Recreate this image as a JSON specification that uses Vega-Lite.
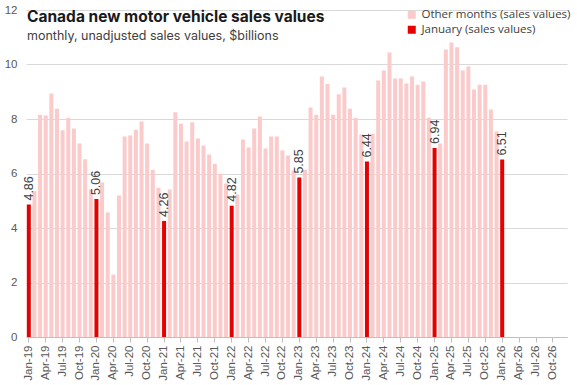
{
  "$schema": "https://vega.github.io/schema/vega-lite/v6.json",
  "autosize": "none",
  "width": 541,
  "height": 327,
  "padding": {"left": 26, "top": 10, "right": 10, "bottom": 48},
  "background": "white",
  "title": {
    "text": "Canada new motor vehicle sales values",
    "subtitle": "monthly, unadjusted sales values,  $billions",
    "anchor": "start",
    "frame": "group",
    "offset": -38,
    "dx": 1,
    "font": "Inter",
    "fontSize": 15.5,
    "fontWeight": "bold",
    "color": "#1a1a1a",
    "subtitleFont": "Inter",
    "subtitleFontSize": 12.5,
    "subtitleColor": "#404040",
    "subtitlePadding": 4
  },
  "config": {
    "view": {"stroke": null},
    "axis": {"labelFont": "Liberation Sans", "labelColor": "#595959", "labelFontSize": 11.5}
  },
  "data": {
    "values": [
      {"month": "Jan-19", "value": 4.86, "series": "January (sales values)"},
      {"month": "Feb-19", "value": 5.35, "series": "Other months (sales values)"},
      {"month": "Mar-19", "value": 8.16, "series": "Other months (sales values)"},
      {"month": "Apr-19", "value": 8.13, "series": "Other months (sales values)"},
      {"month": "May-19", "value": 8.94, "series": "Other months (sales values)"},
      {"month": "Jun-19", "value": 8.38, "series": "Other months (sales values)"},
      {"month": "Jul-19", "value": 7.59, "series": "Other months (sales values)"},
      {"month": "Aug-19", "value": 8.05, "series": "Other months (sales values)"},
      {"month": "Sep-19", "value": 7.65, "series": "Other months (sales values)"},
      {"month": "Oct-19", "value": 7.10, "series": "Other months (sales values)"},
      {"month": "Nov-19", "value": 6.52, "series": "Other months (sales values)"},
      {"month": "Dec-19", "value": 5.41, "series": "Other months (sales values)"},
      {"month": "Jan-20", "value": 5.06, "series": "January (sales values)"},
      {"month": "Feb-20", "value": 5.67, "series": "Other months (sales values)"},
      {"month": "Mar-20", "value": 4.57, "series": "Other months (sales values)"},
      {"month": "Apr-20", "value": 2.29, "series": "Other months (sales values)"},
      {"month": "May-20", "value": 5.19, "series": "Other months (sales values)"},
      {"month": "Jun-20", "value": 7.36, "series": "Other months (sales values)"},
      {"month": "Jul-20", "value": 7.39, "series": "Other months (sales values)"},
      {"month": "Aug-20", "value": 7.61, "series": "Other months (sales values)"},
      {"month": "Sep-20", "value": 7.91, "series": "Other months (sales values)"},
      {"month": "Oct-20", "value": 7.10, "series": "Other months (sales values)"},
      {"month": "Nov-20", "value": 6.14, "series": "Other months (sales values)"},
      {"month": "Dec-20", "value": 5.48, "series": "Other months (sales values)"},
      {"month": "Jan-21", "value": 4.26, "series": "January (sales values)"},
      {"month": "Feb-21", "value": 5.41, "series": "Other months (sales values)"},
      {"month": "Mar-21", "value": 8.25, "series": "Other months (sales values)"},
      {"month": "Apr-21", "value": 7.83, "series": "Other months (sales values)"},
      {"month": "May-21", "value": 7.17, "series": "Other months (sales values)"},
      {"month": "Jun-21", "value": 7.88, "series": "Other months (sales values)"},
      {"month": "Jul-21", "value": 7.28, "series": "Other months (sales values)"},
      {"month": "Aug-21", "value": 7.03, "series": "Other months (sales values)"},
      {"month": "Sep-21", "value": 6.70, "series": "Other months (sales values)"},
      {"month": "Oct-21", "value": 6.36, "series": "Other months (sales values)"},
      {"month": "Nov-21", "value": 5.99, "series": "Other months (sales values)"},
      {"month": "Dec-21", "value": 5.63, "series": "Other months (sales values)"},
      {"month": "Jan-22", "value": 4.82, "series": "January (sales values)"},
      {"month": "Feb-22", "value": 5.23, "series": "Other months (sales values)"},
      {"month": "Mar-22", "value": 7.25, "series": "Other months (sales values)"},
      {"month": "Apr-22", "value": 6.95, "series": "Other months (sales values)"},
      {"month": "May-22", "value": 7.65, "series": "Other months (sales values)"},
      {"month": "Jun-22", "value": 8.09, "series": "Other months (sales values)"},
      {"month": "Jul-22", "value": 6.92, "series": "Other months (sales values)"},
      {"month": "Aug-22", "value": 7.36, "series": "Other months (sales values)"},
      {"month": "Sep-22", "value": 7.36, "series": "Other months (sales values)"},
      {"month": "Oct-22", "value": 6.84, "series": "Other months (sales values)"},
      {"month": "Nov-22", "value": 6.66, "series": "Other months (sales values)"},
      {"month": "Dec-22", "value": 6.11, "series": "Other months (sales values)"},
      {"month": "Jan-23", "value": 5.85, "series": "January (sales values)"},
      {"month": "Feb-23", "value": 6.14, "series": "Other months (sales values)"},
      {"month": "Mar-23", "value": 8.42, "series": "Other months (sales values)"},
      {"month": "Apr-23", "value": 8.16, "series": "Other months (sales values)"},
      {"month": "May-23", "value": 9.56, "series": "Other months (sales values)"},
      {"month": "Jun-23", "value": 9.28, "series": "Other months (sales values)"},
      {"month": "Jul-23", "value": 8.16, "series": "Other months (sales values)"},
      {"month": "Aug-23", "value": 8.91, "series": "Other months (sales values)"},
      {"month": "Sep-23", "value": 9.16, "series": "Other months (sales values)"},
      {"month": "Oct-23", "value": 8.38, "series": "Other months (sales values)"},
      {"month": "Nov-23", "value": 8.05, "series": "Other months (sales values)"},
      {"month": "Dec-23", "value": 7.43, "series": "Other months (sales values)"},
      {"month": "Jan-24", "value": 6.44, "series": "January (sales values)"},
      {"month": "Feb-24", "value": 7.46, "series": "Other months (sales values)"},
      {"month": "Mar-24", "value": 9.41, "series": "Other months (sales values)"},
      {"month": "Apr-24", "value": 9.78, "series": "Other months (sales values)"},
      {"month": "May-24", "value": 10.44, "series": "Other months (sales values)"},
      {"month": "Jun-24", "value": 9.49, "series": "Other months (sales values)"},
      {"month": "Jul-24", "value": 9.49, "series": "Other months (sales values)"},
      {"month": "Aug-24", "value": 9.30, "series": "Other months (sales values)"},
      {"month": "Sep-24", "value": 9.56, "series": "Other months (sales values)"},
      {"month": "Oct-24", "value": 9.26, "series": "Other months (sales values)"},
      {"month": "Nov-24", "value": 9.38, "series": "Other months (sales values)"},
      {"month": "Dec-24", "value": 8.05, "series": "Other months (sales values)"},
      {"month": "Jan-25", "value": 6.94, "series": "January (sales values)"},
      {"month": "Feb-25", "value": 7.10, "series": "Other months (sales values)"},
      {"month": "Mar-25", "value": 10.55, "series": "Other months (sales values)"},
      {"month": "Apr-25", "value": 10.81, "series": "Other months (sales values)"},
      {"month": "May-25", "value": 10.63, "series": "Other months (sales values)"},
      {"month": "Jun-25", "value": 9.78, "series": "Other months (sales values)"},
      {"month": "Jul-25", "value": 9.93, "series": "Other months (sales values)"},
      {"month": "Aug-25", "value": 9.08, "series": "Other months (sales values)"},
      {"month": "Sep-25", "value": 9.26, "series": "Other months (sales values)"},
      {"month": "Oct-25", "value": 9.26, "series": "Other months (sales values)"},
      {"month": "Nov-25", "value": 8.35, "series": "Other months (sales values)"},
      {"month": "Dec-25", "value": 7.54, "series": "Other months (sales values)"},
      {"month": "Jan-26", "value": 6.51, "series": "January (sales values)"}
    ]
  },
  "encoding": {
    "x": {
      "field": "month",
      "type": "ordinal",
      "sort": null,
      "scale": {
        "paddingInner": 0.29,
        "paddingOuter": 0.145,
        "domain": ["Jan-19","Feb-19","Mar-19","Apr-19","May-19","Jun-19","Jul-19","Aug-19","Sep-19","Oct-19","Nov-19","Dec-19",
                   "Jan-20","Feb-20","Mar-20","Apr-20","May-20","Jun-20","Jul-20","Aug-20","Sep-20","Oct-20","Nov-20","Dec-20",
                   "Jan-21","Feb-21","Mar-21","Apr-21","May-21","Jun-21","Jul-21","Aug-21","Sep-21","Oct-21","Nov-21","Dec-21",
                   "Jan-22","Feb-22","Mar-22","Apr-22","May-22","Jun-22","Jul-22","Aug-22","Sep-22","Oct-22","Nov-22","Dec-22",
                   "Jan-23","Feb-23","Mar-23","Apr-23","May-23","Jun-23","Jul-23","Aug-23","Sep-23","Oct-23","Nov-23","Dec-23",
                   "Jan-24","Feb-24","Mar-24","Apr-24","May-24","Jun-24","Jul-24","Aug-24","Sep-24","Oct-24","Nov-24","Dec-24",
                   "Jan-25","Feb-25","Mar-25","Apr-25","May-25","Jun-25","Jul-25","Aug-25","Sep-25","Oct-25","Nov-25","Dec-25",
                   "Jan-26","Feb-26","Mar-26","Apr-26","May-26","Jun-26","Jul-26","Aug-26","Sep-26","Oct-26","Nov-26","Dec-26"]
      },
      "axis": {
        "title": null,
        "labelAngle": -90,
        "labelAlign": "right",
        "labelBaseline": "middle",
        "labelPadding": 3,
        "values": ["Jan-19","Apr-19","Jul-19","Oct-19","Jan-20","Apr-20","Jul-20","Oct-20","Jan-21","Apr-21","Jul-21","Oct-21",
                   "Jan-22","Apr-22","Jul-22","Oct-22","Jan-23","Apr-23","Jul-23","Oct-23","Jan-24","Apr-24","Jul-24","Oct-24",
                   "Jan-25","Apr-25","Jul-25","Oct-25","Jan-26","Apr-26","Jul-26","Oct-26"],
        "domainColor": "#BFBFBF",
        "tickColor": "#BFBFBF",
        "tickSize": 5,
        "grid": false
      }
    },
    "y": {
      "field": "value",
      "type": "quantitative",
      "scale": {"domain": [0, 12], "nice": false},
      "axis": {
        "title": null,
        "values": [0, 2, 4, 6, 8, 10, 12],
        "domain": false,
        "ticks": false,
        "labelPadding": 9,
        "gridColor": "#D9D9D9",
        "gridWidth": 1
      }
    }
  },
  "layer": [
    {
      "mark": {"type": "bar"},
      "encoding": {
        "color": {
          "field": "series",
          "type": "nominal",
          "scale": {
            "domain": ["Other months (sales values)", "January (sales values)"],
            "range": ["#FBCACA", "#E60000"]
          },
          "legend": {
            "title": null,
            "orient": "none",
            "legendX": 380,
            "legendY": -1,
            "symbolType": "square",
            "symbolSize": 64,
            "symbolStrokeWidth": 0,
            "labelFont": "Open Sans",
            "labelFontSize": 11.5,
            "labelColor": "#404040",
            "rowPadding": 2,
            "labelOffset": 4
          }
        }
      }
    },
    {
      "transform": [{"filter": {"field": "series", "equal": "January (sales values)"}}],
      "mark": {
        "type": "text",
        "angle": 270,
        "align": "left",
        "baseline": "middle",
        "dx": 4,
        "font": "Liberation Sans",
        "fontSize": 12.5,
        "color": "#404040"
      },
      "encoding": {
        "text": {"field": "value", "type": "quantitative", "format": ".2f"}
      }
    }
  ]
}
